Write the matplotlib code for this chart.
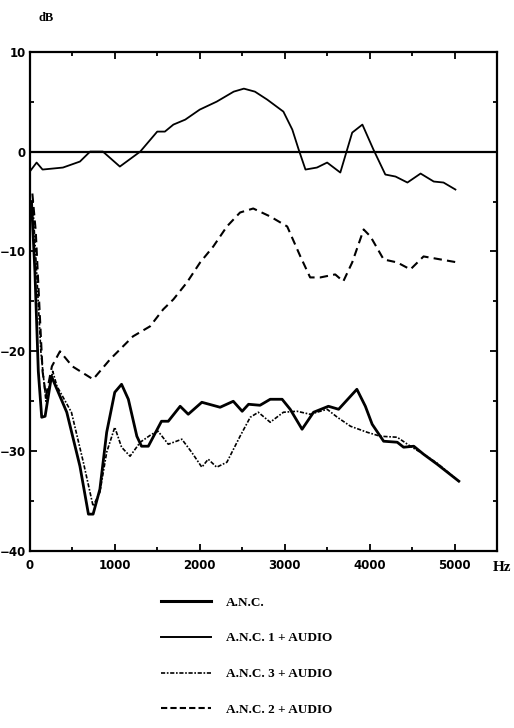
import matplotlib
matplotlib.use("Agg")
import matplotlib.pyplot as plt
from matplotlib.lines import Line2D

# A.N.C. (thick solid)
anc_f = [20, 60, 100, 140, 180, 255, 435, 590, 690, 745, 825, 905, 1000, 1080,
         1160, 1260, 1315, 1395, 1550, 1630, 1770, 1865, 2025, 2240, 2395, 2500,
         2575, 2710, 2830, 2970, 3065, 3205, 3340, 3515, 3635, 3850, 3950, 4030,
         4165, 4325, 4400, 4520, 4635, 4795, 5050]
anc_db = [-5, -12, -22, -26.6, -26.5, -22.5, -26.1, -31.5, -36.3, -36.3, -33.8,
          -28.1, -24.1, -23.3, -24.8, -28.5, -29.5, -29.5, -27.0, -27.0, -25.5,
          -26.3, -25.1, -25.6, -25.0, -26.0, -25.3, -25.4, -24.8, -24.8, -25.8,
          -27.8, -26.1, -25.5, -25.8, -23.8, -25.5, -27.3, -29.0, -29.1, -29.6,
          -29.5, -30.3, -31.3, -33.0]

# A.N.C. 1 + AUDIO (thin solid)
anc1_f = [0, 80, 150, 390, 590, 710, 860, 1060, 1300, 1500, 1590, 1690, 1830,
          2000, 2200, 2400, 2520, 2650, 2795, 2985, 3090, 3165, 3245, 3380, 3500,
          3655, 3795, 3915, 4045, 4185, 4305, 4445, 4600, 4755, 4870, 5010]
anc1_db = [-2.0, -1.1, -1.8, -1.6, -1.0, 0.0, 0.0, -1.5, 0.0, 2.0, 2.0, 2.7, 3.2,
           4.2, 5.0, 6.0, 6.3, 6.0, 5.2, 4.0, 2.2, 0.2, -1.8, -1.6, -1.1, -2.1,
           1.9, 2.7, 0.2, -2.3, -2.5, -3.1, -2.2, -3.0, -3.1, -3.8]

# A.N.C. 3 + AUDIO (dotted)
anc3_f = [40, 80, 130, 190, 270, 320, 490, 630, 745, 825, 905, 1000, 1080, 1180,
          1300, 1435, 1510, 1630, 1790, 1905, 2025, 2100, 2200, 2320, 2475, 2595,
          2690, 2830, 2985, 3145, 3300, 3500, 3620, 3775, 3970, 4125, 4325, 4480,
          4635, 4795, 5050]
anc3_db = [-6, -12, -20, -25, -22, -23.5, -26.1, -31.1, -35.5, -34.1, -30.1, -27.6,
           -29.6, -30.5, -29.1, -28.3, -28.0, -29.3, -28.8, -30.1, -31.6, -30.8,
           -31.6, -31.1, -28.5, -26.6, -26.1, -27.1, -26.1, -26.0, -26.3, -25.8,
           -26.6, -27.5, -28.1, -28.5, -28.6, -29.5, -30.3, -31.2, -33.0]

# A.N.C. 2 + AUDIO (dashed)
anc2_f = [30, 70, 110, 150, 190, 260, 355, 500, 745, 945, 1215, 1415, 1570, 1690,
          1850, 2005, 2160, 2320, 2475, 2630, 2830, 3030, 3185, 3300, 3420, 3595,
          3690, 3795, 3930, 4010, 4165, 4325, 4480, 4635, 4835, 5035]
anc2_db = [-4.2, -8, -15, -22, -24.5, -21.5, -20, -21.5, -22.8, -20.8, -18.5, -17.5,
           -15.8, -14.8, -13.1, -11.1, -9.5, -7.5, -6.1, -5.7, -6.5, -7.5, -10.5,
           -12.6, -12.6, -12.3, -13.0, -11.1, -7.8, -8.5, -10.8, -11.1, -11.8,
           -10.5, -10.8, -11.1]

labels = ["A.N.C.", "A.N.C. 1 + AUDIO", "A.N.C. 3 + AUDIO", "A.N.C. 2 + AUDIO"]

plt.rcParams['font.family'] = ['Liberation Serif', 'DejaVu Serif']
plt.rcParams['font.weight'] = 'bold'

fig = plt.figure(figsize=(5.14, 7.28), dpi=100)
ax = fig.add_axes([0.058, 0.243, 0.909, 0.686])

ax.axhline(0, color='black', lw=1.6)
ax.plot(anc_f, anc_db, color='black', lw=2.0)
ax.plot(anc1_f, anc1_db, color='black', lw=1.3)
ax.plot(anc3_f, anc3_db, color='black', lw=1.2, dashes=(2.5, 1, 1, 1))
ax.plot(anc2_f, anc2_db, color='black', lw=1.5, dashes=(4, 2.5))

ax.set_xlim(0, 5500)
ax.set_ylim(-40, 10)
ax.set_xticks([0, 1000, 2000, 3000, 4000, 5000])
ax.set_xticks([500, 1500, 2500, 3500, 4500], minor=True)
ax.set_yticks([-40, -30, -20, -10, 0, 10])
ax.set_yticks([-35, -25, -15, -5, 5], minor=True)
ax.tick_params(which='both', direction='in', top=True, right=True,
               labelsize=8.5, width=1.3)
ax.tick_params(which='major', length=5, pad=6)
ax.tick_params(which='minor', length=3)
ax.tick_params(axis='y', pad=3)
for lab in ax.get_xticklabels() + ax.get_yticklabels():
    lab.set_fontweight('bold')
    lab.set_family('DejaVu Sans')
for s in ax.spines.values():
    s.set_linewidth(1.6)

fig.text(0.075, 0.975, "dB", fontsize=9, fontweight='bold', ha='left', va='center')
fig.text(0.995, 0.22, "Hz", fontsize=11, fontweight='bold', ha='right', va='center')

handles = [Line2D([], [], color='black', lw=2.2),
           Line2D([], [], color='black', lw=1.4),
           Line2D([], [], color='black', lw=1.2, dashes=(2.5, 1, 1, 1)),
           Line2D([], [], color='black', lw=1.5, dashes=(3, 1.5))]
fig.legend(handles, labels, loc='upper left', bbox_to_anchor=(0.29, 0.197),
           frameon=False, handlelength=3.8, handletextpad=1.1,
           labelspacing=1.78, prop={'weight': 'bold', 'size': 9.5})

fig.savefig("out.png", dpi=100)
